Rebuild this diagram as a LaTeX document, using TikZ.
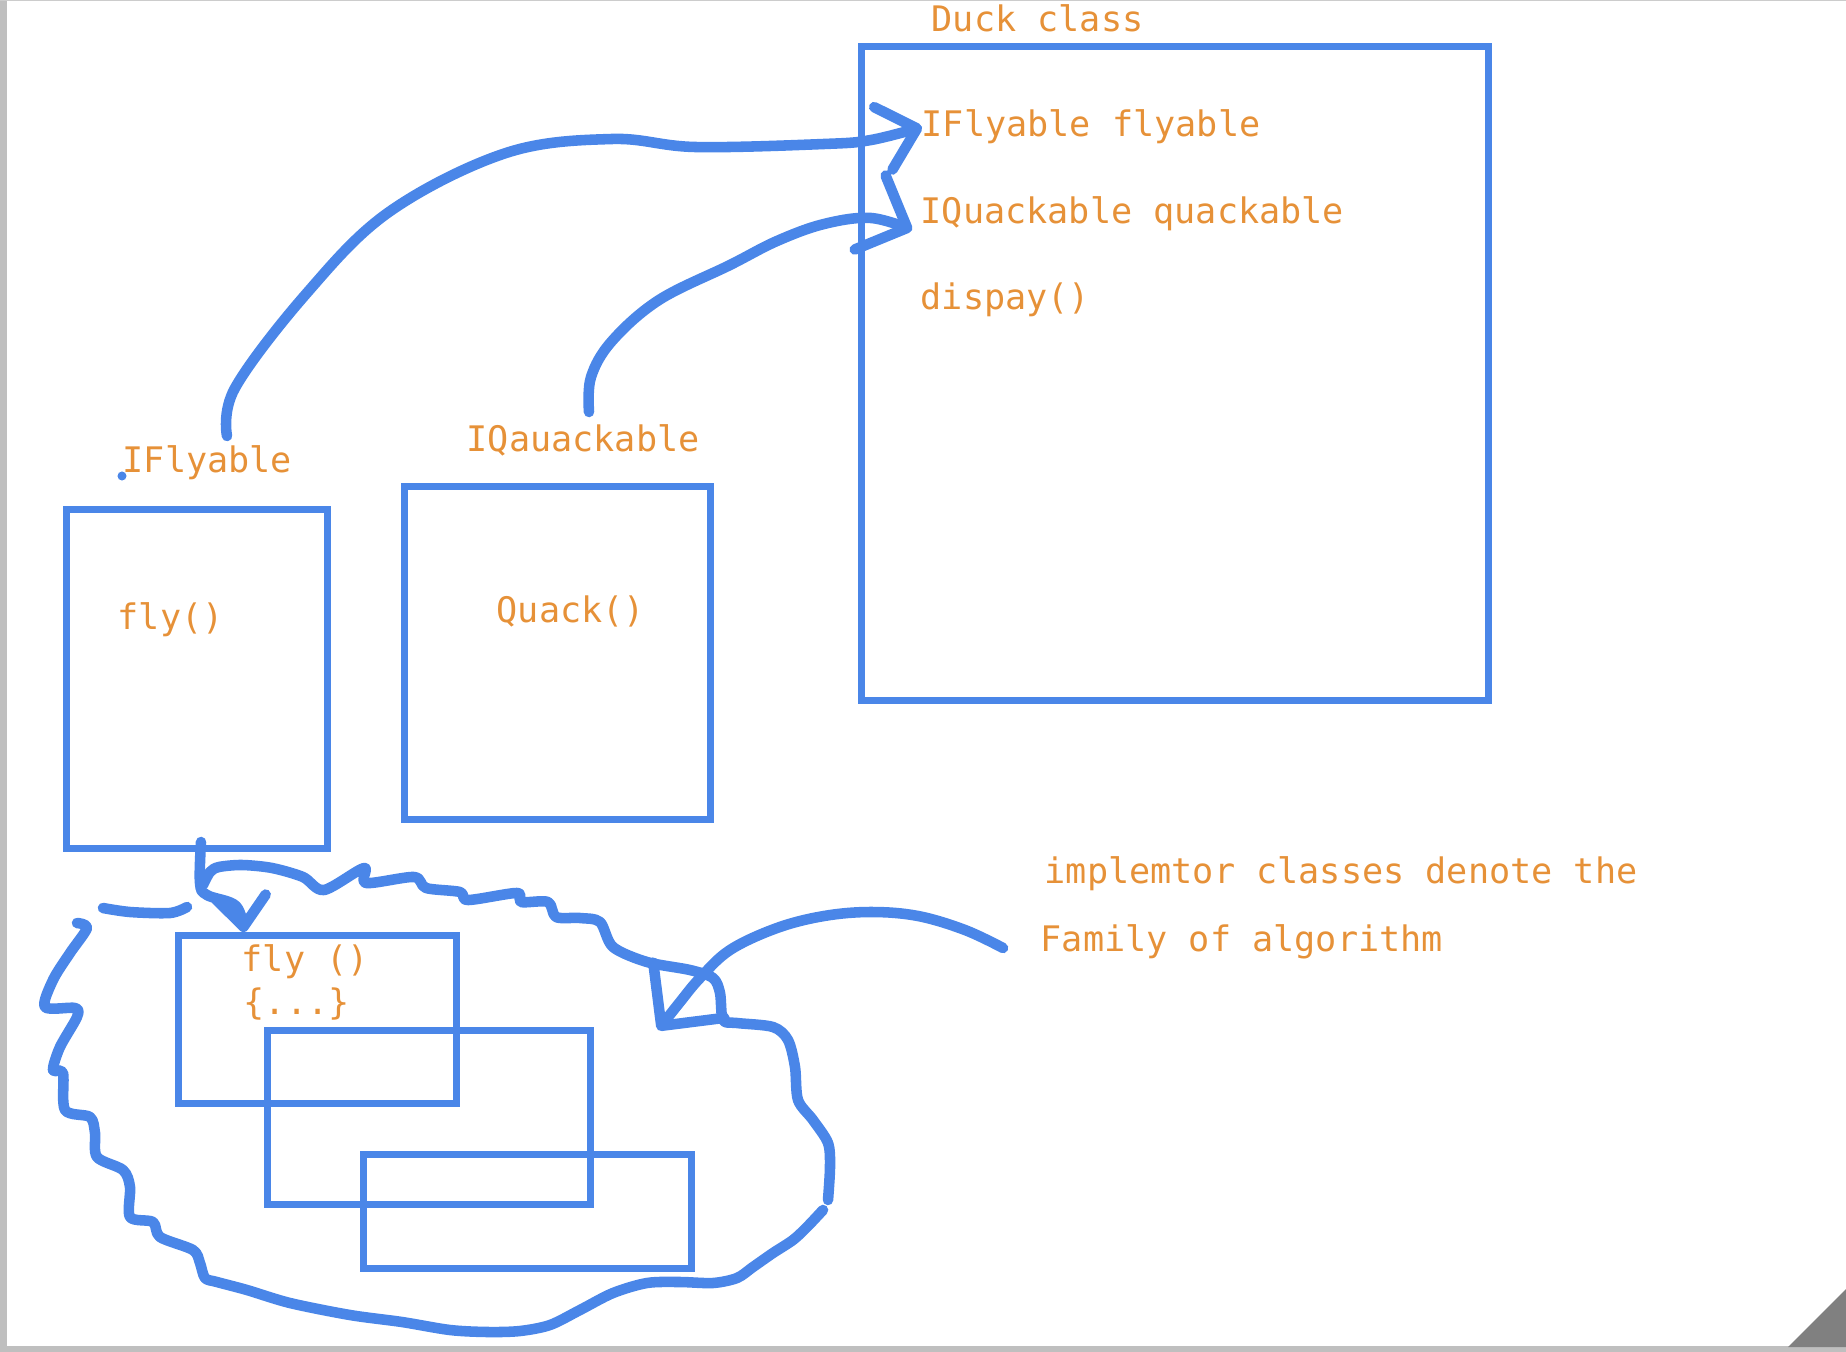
\documentclass[tikz,border=0pt]{standalone}
\usepackage{fontspec}
\usetikzlibrary{arrows.meta}
\newfontfamily\duckfont{DejaVu Sans Mono}
\definecolor{duckblue}{HTML}{4A86E8}
\definecolor{duckorange}{HTML}{E69138}
\tikzset{
  box/.style={draw=duckblue,line width=2pt,inner sep=0pt},
  txt/.style={text=duckorange,font={\duckfont\fontsize{10}{12}\selectfont},inner sep=0pt,anchor=mid west},
  pen/.style={draw=duckblue,line width=3pt,line cap=round,line join=round},
  barb/.style 2 args={-{Straight Barb[length=#1,width=#2,round]}}
}
\begin{document}
\begin{tikzpicture}[x=0.01cm,y=-0.01cm]
    \useasboundingbox (0,0) rectangle (1846,1352);
    % sheet edges
    \fill[black!25] (0,0) rectangle (7,1352);
    \fill[black!25] (0,1346) rectangle (1846,1352);
    \fill[black!20] (0,0) rectangle (1846,1.5);
    \fill[gray] (1788,1347) -- (1846,1289) -- (1846,1347) -- cycle;

    % boxes
    \node[box,minimum width=6.26cm,minimum height=6.53cm] (duck) at (1175,373.5) {};
    \node[box,minimum width=2.60cm,minimum height=3.38cm] (flyBox) at (197,679) {};
    \node[box,minimum width=3.05cm,minimum height=3.32cm] (quackBox) at (557.5,653) {};
    \node[box,minimum width=2.77cm,minimum height=1.67cm] (implA) at (317.5,1019.5) {};
    \node[box,minimum width=3.22cm,minimum height=1.73cm] (implB) at (429,1117.5) {};
    \node[box,minimum width=3.27cm,minimum height=1.13cm] (implC) at (527.5,1211.5) {};

    % texts
    \node[txt] (duckTitle) at (931,24) {Duck class};
    \node[txt] (flyField) at (921,129) {IFlyable flyable};
    \node[txt] (quackField) at (920,216) {IQuackable quackable};
    \node[txt] (displayFn) at (920,302) {dispay()};
    \node[txt] (flyLabel) at (122,465) {IFlyable};
    \node[txt] (flyFn) at (117,622) {fly()};
    \node[txt] (quackLabel) at (466,444) {IQauackable};
    \node[txt] (quackFn) at (496,615) {Quack()};
    \node[txt] (implFly) at (241,964) {fly ()};
    \node[txt] (implBody) at (243,1007) {\{...\}};
    \node[txt] (noteA) at (1044,876) {implemtor classes denote the};
    \node[txt] (noteB) at (1040,944) {Family of algorithm};
    \fill[duckblue] (122,476) circle[radius=0.045cm];

    \coordinate (flyStart) at (227,436);
    \coordinate (quackStart) at (589,412);
    \coordinate (implStart) at (201,842);
    \coordinate (noteStart) at (1003,948);

    % arrows
    \draw[pen,barb={3.5mm}{6.5mm}] plot[smooth,tension=0.6] coordinates {(flyStart) (235,388) (306,294) (389,212) (506,153) (612,139) (695,147) (824,144) (871,140) (922,127)};
    \draw[pen,barb={4mm}{8mm}] plot[smooth,tension=0.6] coordinates {(quackStart) (591,377) (612,341) (659,300) (730,265) (777,241) (824,224) (871,218) (912,230)};
    \draw[pen,barb={3mm}{5mm}] plot[smooth,tension=0.6] coordinates {(implStart) (200,883) (207,895) (236,906) (244,932)};
    \draw[pen,barb={4.5mm}{9mm}] plot[smooth,tension=0.6] coordinates {(noteStart) (965,930) (918,916) (871,912) (824,916) (777,928) (730,950) (700,978) (680,1002) (658,1030)};

    % family outline
    \draw[pen] plot[smooth,tension=0.5] coordinates {(203,885) (210,872) (219,867) (242,865) (272,868) (303,877) (324,890) (364,868) (366,883) (414,877) (426,888) (460,892) (468,900) (517,893) (521,902) (548,902) (556,917) (580,918) (600,922) (613,947) (647,962) (690,970) (713,978) (720,993) (723,1020) (737,1023) (773,1027) (788,1040) (795,1067) (798,1100) (813,1120) (828,1143) (830,1167) (828,1200)};
    \draw[pen] plot[smooth,tension=0.5] coordinates {(77,923) (87,928) (70,953) (53,980) (45,1007) (75,1008) (77,1017) (60,1047) (53,1070) (63,1073) (65,1110) (90,1117) (95,1133) (97,1157) (123,1170) (130,1187) (130,1217) (153,1222) (160,1237) (193,1250) (200,1263) (205,1278) (217,1282) (247,1290) (290,1303) (350,1315) (402,1322) (450,1330) (488,1332) (520,1331) (550,1325) (580,1310) (613,1293) (647,1283) (680,1282) (713,1283) (737,1278) (753,1267) (773,1253) (793,1240) (807,1227) (823,1210)};
    \draw[pen] plot[smooth] coordinates {(103,908) (130,912) (170,913) (187,907)};
\end{tikzpicture}
\end{document}
